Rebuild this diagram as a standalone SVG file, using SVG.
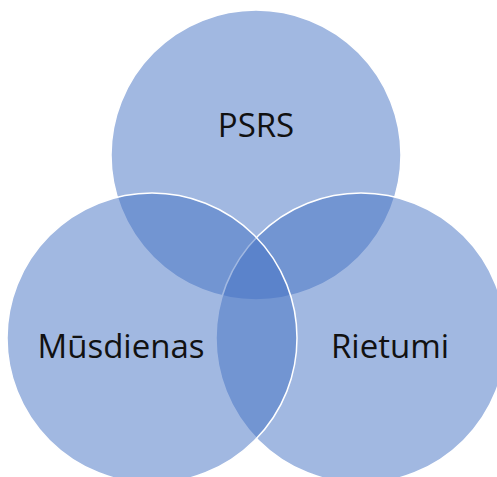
<svg xmlns="http://www.w3.org/2000/svg" width="497" height="477" viewBox="0 0 497 477">
<style>
.c{fill:#4472C4;fill-opacity:0.5;stroke:#FFFFFF;stroke-width:1.5}
.t{font-family:"Open Sans","Liberation Sans",sans-serif;font-size:33px;fill:#111111;text-anchor:middle}
</style>
<rect width="497" height="477" fill="#FFFFFF"/>
<g id="psrs">
<circle class="c" cx="256" cy="155" r="145"/>
</g>
<g id="rietumi">
<circle class="c" cx="361" cy="338" r="145"/>
</g>
<g id="musdienas">
<circle class="c" cx="152" cy="338" r="145"/>
</g>
<g id="connectors"></g>
<g id="labels">
<text class="t" x="256" y="137">PSRS</text>
<text class="t" x="121" y="358">Mūsdienas</text>
<text class="t" x="390" y="358">Rietumi</text>
</g>
</svg>
